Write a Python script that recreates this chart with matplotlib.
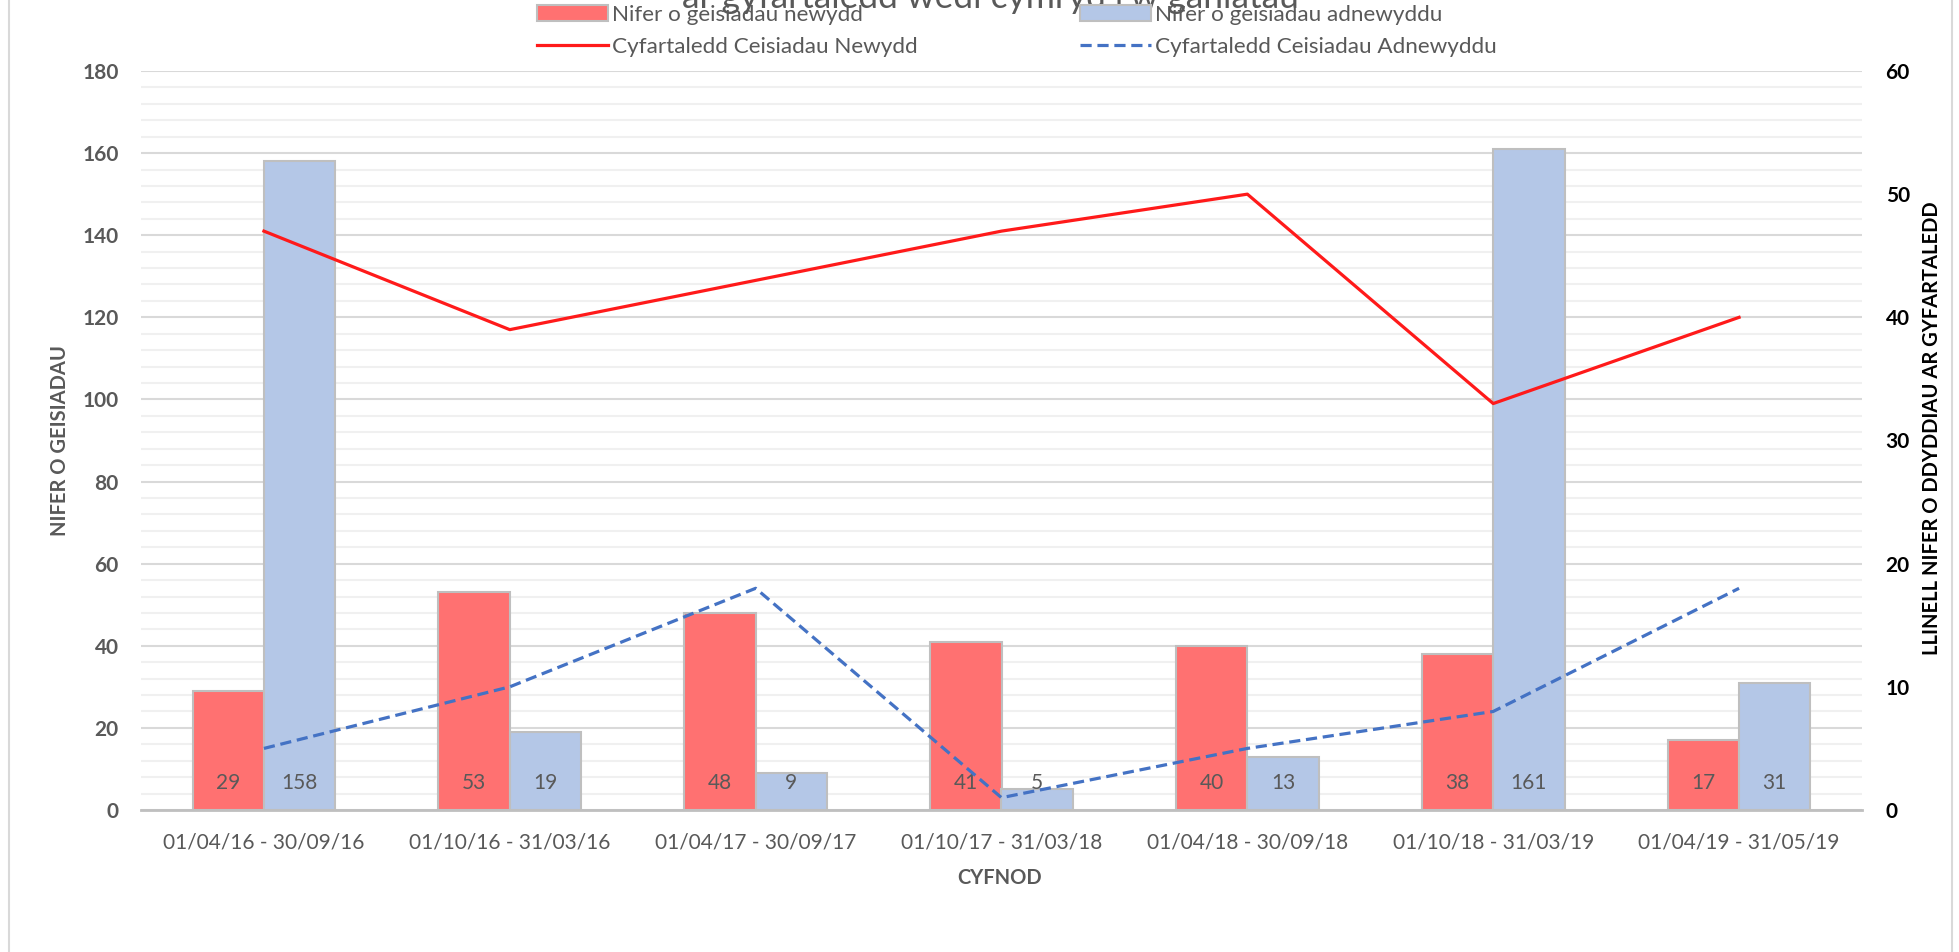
import numpy as np
from matplotlib import pyplot as plt
from matplotlib.lines import Line2D
from matplotlib.ticker import MultipleLocator

plt.rcParams['font.family'] = ['Lato', 'DejaVu Sans']

periods = ['01/04/16 - 30/09/16', '01/10/16 - 31/03/16', '01/04/17 - 30/09/17',
           '01/10/17 - 31/03/18', '01/04/18 - 30/09/18', '01/10/18 - 31/03/19',
           '01/04/19 - 31/05/19']
new_apps = [29, 53, 48, 41, 40, 38, 17]
renew_apps = [158, 19, 9, 5, 13, 161, 31]
avg_new = [47, 39, 43, 47, 50, 33, 40]
avg_renew = [5, 10, 18, 1, 5, 8, 18]

grey = '#595959'
x = np.arange(len(periods))
w = 0.29

fig = plt.figure(figsize=(19.59, 9.52), dpi=100)
ax = fig.add_axes([141/1959, 1-810/952, (1862-141)/1959, (810-71)/952])
ax2 = ax.twinx()

b1 = ax.bar(x - w/2, new_apps, w, color='#FF7171', edgecolor='#BFBFBF', linewidth=1.5,
            label='Nifer o geisiadau newydd', zorder=3)
b2 = ax.bar(x + w/2, renew_apps, w, color='#B4C7E7', edgecolor='#BFBFBF', linewidth=1.5,
            label='Nifer o geisiadau adnewyddu', zorder=3)
for i in range(len(x)):
    ax.text(x[i] - w/2, 6.6, str(new_apps[i]), ha='center', va='center', fontsize=15, color=grey, zorder=4)
    ax.text(x[i] + w/2, 6.6, str(renew_apps[i]), ha='center', va='center', fontsize=15, color=grey, zorder=4)

l1, = ax2.plot(x, avg_new, color='#FF1A1A', lw=2.3, label='Cyfartaledd Ceisiadau Newydd')
l2, = ax2.plot(x, avg_renew, color='#4472C4', lw=2.3, dashes=(3.5, 1.8), label='Cyfartaledd Ceisiadau Adnewyddu')

ax.set_xlim(-0.5, len(x) - 0.5)
ax.set_ylim(0, 180)
ax2.set_ylim(0, 60)
ax.yaxis.set_major_locator(MultipleLocator(20))
ax.yaxis.set_minor_locator(MultipleLocator(4))
ax2.yaxis.set_major_locator(MultipleLocator(10))
ax.grid(which='major', axis='y', color='#D9D9D9', lw=1.5, zorder=0)
ax.grid(which='minor', axis='y', color='#F0F0F0', lw=1.5, zorder=0)
ax.set_axisbelow(True)

for a in (ax, ax2):
    for s in a.spines.values():
        s.set_visible(False)
ax.spines['bottom'].set_visible(True)
ax.spines['bottom'].set_color('#BFBFBF')
ax.spines['bottom'].set_linewidth(2)

ax.set_xticks(x)
ax.set_xticklabels(periods, fontsize=15, color=grey)
ax.tick_params(axis='x', length=0, pad=16)
ax.tick_params(axis='y', which='both', length=0, pad=16, labelsize=15, labelcolor=grey)
for t in ax.get_yticklabels():
    t.set_fontweight('bold')
ax2.tick_params(axis='y', length=0, pad=17, labelsize=15, labelcolor='black')
for t in ax2.get_yticklabels():
    t.set_fontweight('bold')

fig.text(60/1959, 1-441/952, 'NIFER O GEISIADAU', rotation=90, ha='center', va='center',
         fontsize=14.5, fontweight='bold', color=grey)
fig.text(1932/1959, 1-428/952, 'LLINELL NIFER O DDYDDIAU AR GYFARTALEDD', rotation=90,
         ha='center', va='center', fontsize=14.5, fontweight='bold', color='black')
fig.text(1000/1959, 1-878/952, 'CYFNOD', ha='center', va='center', fontsize=14.5,
         fontweight='bold', color=grey)

# title is cut off at the top of the image
fig.text(990/1959, 1-8/952, "ar gyfartaledd wedi cymryd i'w ganiatáu", ha='center', va='baseline',
         fontsize=25.5, color=grey)

fig.legend(handles=[b1, l1, b2, l2], ncol=2, frameon=False, fontsize=16.2,
           loc='center left', bbox_to_anchor=(537/1959, 1-31/952), borderpad=0,
           borderaxespad=0, handlelength=3.15, handletextpad=0.2, columnspacing=7.2,
           labelspacing=0.55, labelcolor=grey)

fig.add_artist(Line2D([9/1959, 9/1959], [0, 1], color='#D9D9D9', lw=1.5))
fig.add_artist(Line2D([1952/1959, 1952/1959], [0, 1], color='#D9D9D9', lw=1.5))

plt.savefig('out.png', dpi=100)
